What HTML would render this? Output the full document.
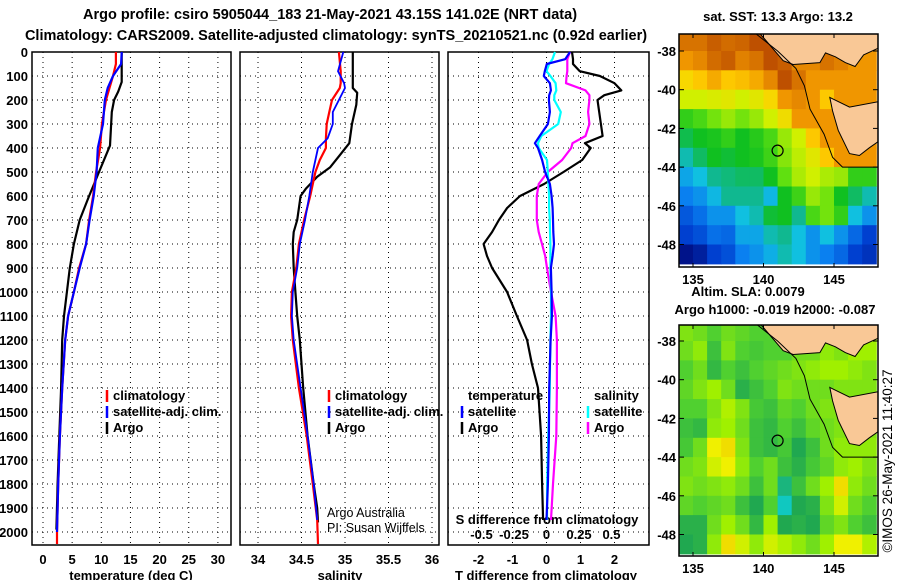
<!DOCTYPE html>
<html><head><meta charset="utf-8"><style>
body{margin:0;background:#fff}
svg{display:block;font-family:"Liberation Sans",sans-serif}
.b{font-weight:bold;font-size:13px}
</style></head><body>
<svg id="c" width="900" height="580" viewBox="0 0 900 580" xmlns="http://www.w3.org/2000/svg"></svg>
<script>
// ---- profile data ----
const tDepth = [0,50,100,150,200,300,400,500,600,700,800,900,1000,1100,1200,1400,1600,1800,2000,2050];
const tClim  = [12.5,12.5,12.0,11.4,10.8,10.1,9.8,9.1,8.6,7.9,7.4,6.2,5.3,4.3,3.8,3.3,2.9,2.6,2.4,2.4];
const tSat   = [13.5,13.4,12.0,11.1,10.6,10.3,9.4,9.2,8.7,8.0,7.4,6.3,5.3,4.3,3.8,3.3,2.9,2.6,2.4,null];
const argoDepth = [0,125,165,200,250,390,500,600,700,800,900,1000,1100,1200,1400,1600,1800,1990];
const tArgo  = [13.5,13.5,12.9,12.2,11.8,11.5,9.6,7.9,6.3,5.3,4.6,4.1,3.6,3.3,3.1,2.8,2.5,2.3];

const sDepth = [0,80,130,150,200,250,300,360,400,450,500,600,700,800,900,1000,1100,1200,1400,1600,1800,1950,2050];
const sClim  = [34.93,34.95,34.95,34.94,34.85,34.82,34.79,34.78,34.78,34.71,34.66,34.60,34.53,34.47,34.44,34.39,34.38,34.40,34.47,34.56,34.63,34.68,34.69];
const sSat   = [34.98,34.92,34.99,35.00,34.93,34.86,34.86,34.80,34.69,34.66,34.63,34.59,34.54,34.48,34.45,34.40,34.39,34.41,34.49,34.57,34.64,34.68,null];
const sArgoDepth = [0,150,170,220,300,380,430,480,520,570,600,700,750,800,900,1000,1100,1200,1400,1600,1800,1900,1960];
const sArgo  = [35.09,35.09,35.14,35.13,35.08,35.05,34.94,34.83,34.68,34.55,34.49,34.45,34.41,34.40,34.41,34.43,34.45,34.48,34.52,34.57,34.64,34.68,34.69];

const dDepth = [0,30,50,80,100,130,160,180,200,250,300,350,380,400,450,500,550,600,650,700,750,800,850,900,1000,1100,1200,1300,1400,1600,1800,1950];
const dTArgo = [0.75,0.78,0.78,0.98,1.57,2.0,2.2,1.7,1.5,1.55,1.6,1.65,1.13,1.3,1.05,0.5,-0.07,-0.78,-1.16,-1.4,-1.6,-1.85,-1.75,-1.6,-1.16,-0.87,-0.57,-0.43,-0.25,-0.16,-0.13,-0.1];
const dTSat  = [0.69,0.55,0.01,-0.05,-0.08,0.1,0.13,0.08,0.07,0.1,0.04,-0.2,-0.34,-0.25,-0.13,-0.04,0.1,0.15,0.18,0.19,0.2,0.22,0.18,0.13,0.15,0.16,0.12,0.1,0.08,0.07,0.04,0.0];
const dSSat  = [0.065,0.045,0.02,0.0,0.03,0.07,0.075,0.06,0.06,0.11,0.09,-0.04,-0.065,-0.06,0.004,0.01,0.015,0.02,0.02,0.025,0.027,0.03,0.03,0.03,0.035,0.035,0.03,0.027,0.025,0.013,0.005,0.004];
const dSArgo = [0.18,0.16,0.16,0.16,0.155,0.15,0.3,0.33,0.33,0.32,0.33,0.3,0.2,0.19,0.12,0.01,-0.06,-0.075,-0.075,-0.075,-0.06,-0.035,-0.01,0.004,0.035,0.07,0.08,0.08,0.08,0.075,0.05,0.035];

const depthTicks = [0,100,200,300,400,500,600,700,800,900,1000,1100,1200,1300,1400,1500,1600,1700,1800,1900,2000];
const tTicks = [0,5,10,15,20,25,30];
const sTicks = [34,34.5,35,35.5,36];
const sTickLabels = ["34","34.5","35","35.5","36"];
const dTTicks = [-2,-1,0,1,2];
const dSTicks = [-0.5,-0.25,0,0.25,0.5];
const dSTickLabels = ["-0.5","-0.25","0","0.25","0.5"];

// ---- map data (rows lat -37.5..-48.5, cols lon 134.5..147.5) ----
const sstRows = [
[15.5,15.5,15.8,15.6,15.7,16,16,15.8,15.5,15.3,15.3,15.3,15.2,15.2],
[15,15.2,15.6,15.8,15.3,15.5,16,15.8,15.2,15.2,15.5,15.3,15,15],
[14.3,14.5,14.8,14.5,14.6,14.8,15.2,16,15.5,15,15,15,15,15],
[13.8,13.8,13.9,14,13.8,14,14.3,15,15.2,15,14.5,15,15,15],
[12.8,13,13.3,13.5,13.3,13.5,13.8,14.2,15,15,15,15,15,15],
[12.3,12.5,12.6,12.8,12.5,12.7,13,13.5,13.8,14.5,15,15,15,15],
[11.8,12.2,12.5,12.4,12.5,12.6,12.9,13.4,13.7,14,14.5,15,15,15],
[11.2,11.5,12,12.1,12.2,12.2,12.5,13.2,13.6,13.8,13.6,13.5,12.8,12.8],
[10.8,11,11.4,12,12,12,11.4,12.5,12.9,13.5,13.3,12.5,12.2,11.8],
[10.3,10.6,11,11,11.5,11.8,12.4,12.5,12,13,13.3,12.8,11.5,11],
[10,10.2,10.6,10.5,11.2,11.2,11.8,12,11.5,11,11.5,11,10.5,10],
[9.3,9.5,10,10.2,10.8,11,11.3,11.8,11.5,11,10.8,10.5,10,9.8]];
const slaRows = [
[.03,.02,0,.02,.01,0,0,.03,.04,.05,.05,.05,.05,.05],
[.02,.04,-.02,.03,0,-.01,0,0,.02,.02,.04,.03,.05,.05],
[0,.02,-.03,0,-.02,0,.01,.02,.03,.04,.05,.05,.04,.03],
[.01,.03,.05,.02,-.04,-.02,0,.03,.02,.02,.02,.03,.03,.03],
[0,0,.03,.06,.03,-.01,-.02,.01,0,.02,.03,.03,.03,.03],
[-.02,-.03,.04,.05,.02,-.02,-.03,0,-.02,.01,.02,.03,.03,.03],
[-.01,.02,.1,.12,.03,-.02,-.03,-.01,-.05,-.02,.02,.04,.04,.04],
[.02,.03,.08,.1,.04,0,.02,-.02,-.04,-.01,.01,.04,.05,.03],
[.03,.02,.03,.04,.02,-.02,.02,-.07,-.02,.02,.05,.12,.04,.02],
[.01,0,.01,.02,-.02,-.05,0,-.1,-.05,-.04,.03,.08,.02,0],
[-.04,-.04,.02,.05,.02,-.03,.05,-.05,-.04,-.05,.01,.03,0,-.02],
[-.05,-.04,.04,.12,.08,.04,.08,.06,.04,.02,.05,.1,.1,.06]];
const argoLon = 141.0, argoLat = -43.15;
const mainland = [[139.75,-36.5],[139.75,-37.1],[141.4,-38.5],[142.1,-38.7],[144.0,-38.6],[144.4,-38.1],[145.1,-38.3],[145.8,-38.6],[146.5,-38.8],[147.1,-38.2],[148.3,-37.8],[148.3,-36.5]];
const tasmania = [[144.7,-40.4],[146.1,-40.9],[148.3,-40.6],[148.3,-42.6],[147.5,-43.0],[146.8,-43.4],[146.1,-43.3],[145.3,-42.1],[144.9,-41.1]];
const contour = [[139.1,-36.9],[141.0,-38.0],[142.3,-38.9],[142.9,-39.8],[143.3,-41.0],[144.3,-42.3],[144.9,-43.5],[145.6,-44.0],[148.3,-44.0]];
const latTicks=[-38,-40,-42,-44,-46,-48], lonTicks=[135,140,145];

const NS="http://www.w3.org/2000/svg", svg=document.getElementById('c');
function el(t,a,p){const e=document.createElementNS(NS,t);for(const k in a)e.setAttribute(k,a[k]);(p||svg).appendChild(e);return e;}
function txt(x,y,s,a,p){const e=el('text',Object.assign({x:x,y:y},a||{}),p);e.textContent=s;return e;}

const Y0=52, PPD=0.24, YB=545;
const yD=d=>Y0+d*PPD;
const xT=t=>43+t*5.83, xS=s=>258+(s-34)*87, xDT=v=>546.5+v*34, xDS=v=>546.5+v*130;
const panels=[[32,231,tTicks.map(xT)],[240,439,sTicks.map(xS)],[448,649,dTTicks.map(xDT)]];

let t1=txt(330,19,"Argo profile: csiro 5905044_183 21-May-2021 43.15S 141.02E (NRT data)",{'text-anchor':'middle','font-size':'14.5','font-weight':'bold'});

let t2=txt(336,40,"Climatology: CARS2009. Satellite-adjusted climatology: synTS_20210521.nc (0.92d earlier)",{'text-anchor':'middle','font-size':'14.5','font-weight':'bold'});


panels.forEach((p,i)=>{
  const g=el('g',{});
  
  
  depthTicks.forEach(d=>{ if(d>0) el('line',{x1:p[0],x2:p[1],y1:yD(d),y2:yD(d),stroke:'#000','stroke-dasharray':'1,4','stroke-width':1},g);});
  p[2].forEach(x=>el('line',{x1:x,x2:x,y1:Y0,y2:YB,stroke:'#000','stroke-dasharray':'1,4','stroke-width':1},g));
  el('rect',{x:p[0],y:Y0,width:p[1]-p[0],height:YB-Y0,fill:'none',stroke:'#000','stroke-width':1.5},g);
});
depthTicks.forEach(d=>{const e=txt(28,yD(d)+5,String(d),{'text-anchor':'end',class:'b'});
  });
tTicks.forEach(v=>txt(xT(v),564,String(v),{'text-anchor':'middle',class:'b'}));
sTicks.forEach((v,i)=>txt(xS(v),564,sTickLabels[i],{'text-anchor':'middle',class:'b'}));
dTTicks.forEach(v=>txt(xDT(v),564,String(v),{'text-anchor':'middle',class:'b'}));
dSTicks.forEach((v,i)=>txt(xDS(v),539,dSTickLabels[i],{'text-anchor':'middle',class:'b'}));
[[131,"temperature (deg C)","x-axis-title-temperature"],[340,"salinity","x-axis-title-salinity"],[546,"T difference from climatology","x-axis-title-t-difference"]].forEach(a=>{
  const e=txt(a[0],580,a[1],{'text-anchor':'middle',class:'b'});});
let sdt=txt(547,524,"S difference from climatology",{'text-anchor':'middle',class:'b'});


function line(depths,vals,xf,color,name,w){
  const pts=[];depths.forEach((d,i)=>{if(vals[i]!==null&&vals[i]!==undefined)pts.push(xf(vals[i]).toFixed(1)+','+yD(d).toFixed(1));});
  const e=el('polyline',{points:pts.join(' '),fill:'none',stroke:color,'stroke-width':w||2.2,'stroke-linejoin':'round'});
  
}
line(argoDepth,tArgo,xT,'#000','temperature-argo-line');
line(tDepth,tClim,xT,'#f00','temperature-climatology-line');
line(tDepth,tSat,xT,'#00f','temperature-satellite-line');
line(sArgoDepth,sArgo,xS,'#000','salinity-argo-line');
line(sDepth,sClim,xS,'#f00','salinity-climatology-line');
line(sDepth,sSat,xS,'#00f','salinity-satellite-line',1.8);
line(dDepth,dTArgo,xDT,'#000','t-diff-argo-line');
line(dDepth,dSArgo,xDS,'#f0f','s-diff-argo-line');
line(dDepth,dSSat,xDS,'#0ff','s-diff-satellite-line');
line(dDepth,dTSat,xDT,'#00f','t-diff-satellite-line');

function legend(x,y,color,label,name){
  const g=el('g',{});
  if(color) el('line',{x1:x,x2:x,y1:y-10,y2:y+2,stroke:color,'stroke-width':2.5},g);
  txt(x+6,y,label,{class:'b'},g);
}
legend(107,400,'#f00','climatology','legend-t-climatology');
legend(107,416,'#00f','satellite-adj. clim.','legend-t-satellite');
legend(107,432,'#000','Argo','legend-t-argo');
legend(329,400,'#f00','climatology','legend-s-climatology');
legend(329,416,'#00f','satellite-adj. clim.','legend-s-satellite');
legend(329,432,'#000','Argo','legend-s-argo');
legend(462,400,null,'temperature','legend-diff-temperature-header');
legend(462,416,'#00f','satellite','legend-diff-t-satellite');
legend(462,432,'#000','Argo','legend-diff-t-argo');
legend(588,400,null,'salinity','legend-diff-salinity-header');
legend(588,416,'#0ff','satellite','legend-diff-s-satellite');
legend(588,432,'#f0f','Argo','legend-diff-s-argo');
let cr=el('g',{});
txt(327,517,"Argo Australia",{'font-size':'12.5'},cr);
txt(327,532,"PI: Susan Wijffels",{'font-size':'12.5'},cr);

// ---- maps ----
function rgb(c){return 'rgb('+c.join(',')+')';}
function lerpColor(stops,v){
  if(v<=stops[0][0])return rgb(stops[0][1]);
  for(let i=1;i<stops.length;i++){if(v<=stops[i][0]){const a=stops[i-1],b=stops[i],f=(v-a[0])/(b[0]-a[0]);
    return rgb([0,1,2].map(k=>Math.round(a[1][k]+(b[1][k]-a[1][k])*f)));}}
  return rgb(stops[stops.length-1][1]);
}
const sstCmap=[[9.3,[0,19,138]],[10,[0,64,208]],[10.8,[10,128,240]],[11.5,[16,192,224]],[12,[16,184,144]],[12.5,[16,192,32]],[13.2,[96,224,16]],[13.8,[208,240,0]],[14.4,[255,210,0]],[15,[240,150,0]],[16,[190,80,0]]];
const slaCmap=[[-0.1,[16,200,192]],[-0.05,[32,168,80]],[0,[80,208,48]],[0.05,[160,240,0]],[0.1,[240,240,0]],[0.15,[240,192,0]]];
const mX=lon=>693+(lon-135)*14.1;
function drawMap(top,bottom,lat38,rows,cmap,name,titleLines){
  const mY=lat=>lat38+(-38-lat)*19.35;
  const g=el('g',{});
  const cid='clip-'+name;const cp=el('clipPath',{id:cid},g);el('rect',{x:679,y:top,width:199,height:bottom-top},cp);
  const ig=el('g',{'clip-path':'url(#'+cid+')'},g);
  rows.forEach((r,ri)=>r.forEach((v,ci)=>{
    const lon=134+ci, lat=-37-ri;
    const c=el('rect',{x:mX(lon).toFixed(1),y:mY(lat).toFixed(1),width:14.6,height:19.9,fill:lerpColor(cmap,v)},ig);
    
  }));
  const P=arr=>arr.map(p=>mX(p[0]).toFixed(1)+','+mY(p[1]).toFixed(1)).join(' ');
  el('polygon',{points:P(mainland),fill:'#f9c896',stroke:'#000','stroke-width':1},ig);
  el('polygon',{points:P(tasmania),fill:'#f9c896',stroke:'#000','stroke-width':1},ig);
  el('polyline',{points:P(contour),fill:'none',stroke:'#000','stroke-width':1},ig);
  const m=el('circle',{cx:mX(argoLon),cy:mY(argoLat),r:5.5,fill:'none',stroke:'#000','stroke-width':1.2},g);
  
  el('rect',{x:679,y:top,width:199,height:bottom-top,fill:'none',stroke:'#000','stroke-width':1.5},g);
  latTicks.forEach(l=>{el('line',{x1:679,x2:684,y1:mY(l),y2:mY(l),stroke:'#000'},g);el('line',{x1:873,x2:878,y1:mY(l),y2:mY(l),stroke:'#000'},g);
    txt(676,mY(l)+5,String(l),{'text-anchor':'end',class:'b'},g);});
  lonTicks.forEach(l=>{el('line',{x1:mX(l),x2:mX(l),y1:top,y2:top+4,stroke:'#000'},g);el('line',{x1:mX(l),x2:mX(l),y1:bottom-4,y2:bottom,stroke:'#000'},g);
    txt(mX(l),bottom+17,String(l),{'text-anchor':'middle',class:'b'},g);});
  titleLines.forEach(t=>txt(t[1],t[0],t[2],{'text-anchor':'middle',class:'b'},g));
}
drawMap(34,267,51,sstRows,sstCmap,'sst-map',[[21,778,"sat. SST: 13.3 Argo: 13.2"]]);
drawMap(325,556,341,slaRows,slaCmap,'sla-map',[[296,748,"Altim. SLA: 0.0079"],[314,775,"Argo h1000: -0.019 h2000: -0.087"]]);
let cp=txt(0,0,"©IMOS 26-May-2021 11:40:27",{'font-size':'13.5',transform:'translate(892,461) rotate(-90)','text-anchor':'middle'});

</script>
</body></html>
